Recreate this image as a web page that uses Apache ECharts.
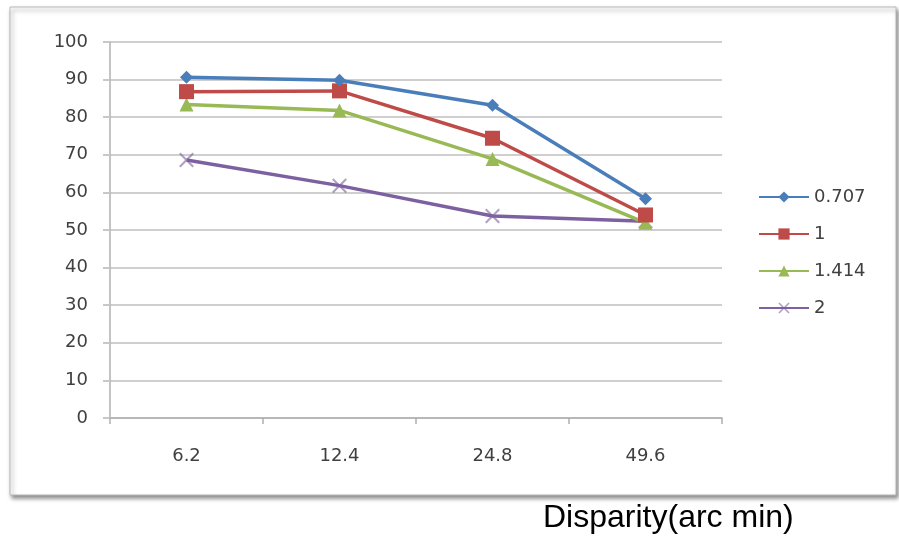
<!DOCTYPE html>
<html>
<head>
<meta charset="utf-8">
<script src="https://cdn.jsdelivr.net/npm/echarts@6/dist/echarts.min.js"></script>
<style>
html,body{margin:0;padding:0;background:#fff;}
#chart{width:899px;height:540px;}
</style>
</head>
<body>
<div id="chart"></div>
<script>
// Disparity categories (arc min)
const categories = ['6.2', '12.4', '24.8', '49.6'];
// Series names and values
const seriesNames = ['0.707', '1', '1.414', '2'];
const values0707 = [90.6, 89.8, 83.2, 58.3];
const values1 = [86.8, 87.0, 74.4, 54.0];
const values1414 = [83.4, 81.8, 68.9, 51.9];
const values2 = [68.6, 61.8, 53.7, 52.3];
const yTicks = { min: 0, max: 100, step: 10 };
const xTitle = 'Disparity(arc min)';

const colors = ['#4a7ebb', '#be4b48', '#98b954', '#7d60a0'];
const crossPath = 'path://M0,1 L1,0 L5,4 L9,0 L10,1 L6,5 L10,9 L9,10 L5,6 L1,10 L0,9 L4,5 Z';
const symbols = ['diamond', 'rect', 'triangle', crossPath];
const symbolSizes = [13, 15, 14, 15];
const allValues = [values0707, values1, values1414, values2];
const labelFont = '"DejaVu Sans", sans-serif';

const chart = echarts.init(document.getElementById('chart'), null, { renderer: 'canvas' });

chart.setOption({
  backgroundColor: '#fff',
  animation: false,
  graphic: [
    {
      type: 'rect',
      z: -10,
      shape: { x: 10, y: 7, width: 886, height: 488 },
      style: {
        fill: '#fff',
        stroke: '#b8b8b8',
        lineWidth: 1,
        shadowColor: 'rgba(0,0,0,0.45)',
        shadowBlur: 4,
        shadowOffsetX: 2,
        shadowOffsetY: 3
      }
    },
    {
      type: 'text',
      left: 543,
      top: 502,
      style: {
        text: xTitle,
        fill: '#000',
        font: '32px "Liberation Sans", Arial, sans-serif'
      }
    }
  ],
  grid: { left: 110, right: 177, top: 42, bottom: 122 },
  legend: {
    orient: 'vertical',
    left: 753,
    top: 183,
    itemWidth: 50,
    itemHeight: 14,
    itemGap: 19,
    textStyle: { color: '#404040', fontSize: 18, fontFamily: labelFont },
    data: seriesNames
  },
  xAxis: {
    type: 'category',
    data: categories,
    boundaryGap: true,
    axisLine: { lineStyle: { color: '#b0b0b0', width: 1.5 } },
    axisTick: { show: true, length: 6, lineStyle: { color: '#b0b0b0', width: 1.5 } },
    axisLabel: {
      color: '#404040',
      fontSize: 18,
      margin: 29,
      fontFamily: labelFont
    },
    splitLine: { show: false }
  },
  yAxis: {
    type: 'value',
    min: yTicks.min,
    max: yTicks.max,
    interval: yTicks.step,
    axisLine: { show: true, lineStyle: { color: '#b0b0b0', width: 1.5 } },
    axisTick: { show: true, length: 7, lineStyle: { color: '#c8c8c8', width: 2 } },
    axisLabel: {
      color: '#404040',
      fontSize: 18,
      margin: 22,
      fontFamily: labelFont
    },
    splitLine: { show: true, lineStyle: { color: '#cfcfcf', width: 2 } }
  },
  series: seriesNames.map((name, i) => ({
    name: name,
    type: 'line',
    data: allValues[i],
    symbol: symbols[i],
    symbolSize: symbolSizes[i],
    showAllSymbol: true,
    lineStyle: { color: colors[i], width: 3.5 },
    itemStyle: { color: colors[i], opacity: i === 3 ? 0.6 : 1 },
    z: 10 - i
  }))
});
</script>
</body>
</html>
